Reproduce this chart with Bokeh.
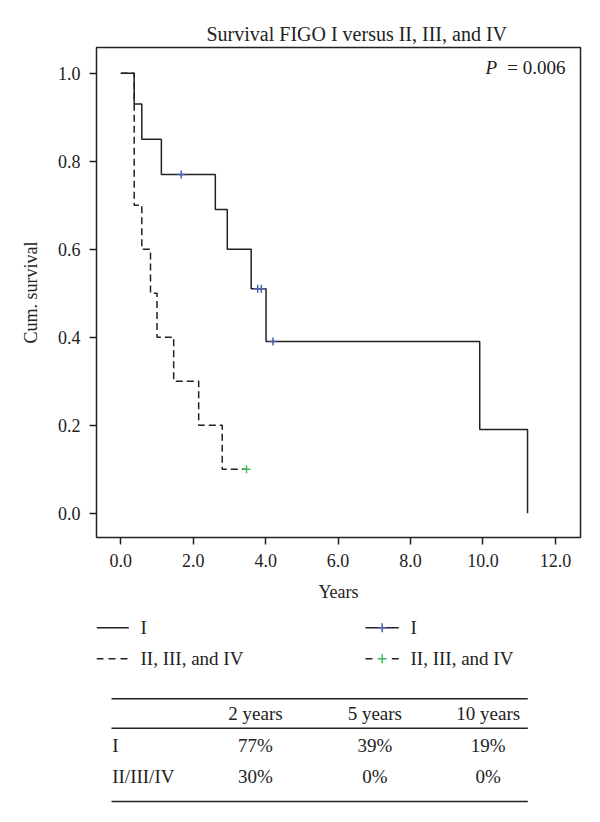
from bokeh.plotting import figure
from bokeh.models import Range1d, FixedTicker, NumeralTickFormatter, Label
from bokeh.layouts import column
from bokeh.embed import file_html
from bokeh.resources import INLINE
from bokeh.core.properties import value

# ---------------- data ----------------
title_text = "Survival FIGO I versus II, III, and IV"
x_label = "Years"
y_label = "Cum. survival"
x_ticks = [0, 2, 4, 6, 8, 10, 12]
y_ticks = [0.0, 0.2, 0.4, 0.6, 0.8, 1.0]

# FIGO I (Kaplan-Meier steps)
t_I = [0.0, 0.37, 0.58, 1.12, 2.61, 2.94, 3.60, 4.01, 9.91, 11.23]
s_I = [1.0, 0.93, 0.85, 0.77, 0.69, 0.60, 0.51, 0.39, 0.19, 0.0]
cens_t_I = [1.67, 3.78, 3.88, 4.20]
cens_s_I = [0.77, 0.51, 0.51, 0.39]

# FIGO II, III, and IV
t_II = [0.0, 0.37, 0.58, 0.82, 1.00, 1.46, 2.15, 2.80]
s_II = [1.0, 0.70, 0.60, 0.50, 0.40, 0.30, 0.20, 0.10]
cens_t_II = [3.47]
cens_s_II = [0.10]

p_value_text = "= 0.006"
legend_labels = ["I", "II, III, and IV"]
table_cols = ["2 years", "5 years", "10 years"]
table_rows = ["I", "II/III/IV"]
table_I = ["77%", "39%", "19%"]
table_II = ["30%", "0%", "0%"]

# ---------------- style ----------------
FONT = "Liberation Serif"
INK = "#222222"
BLUE = "#4a62b0"
GREEN = "#3dbb5e"

LEFT, RIGHT = 96, 12
TOP, FRAME_H, BOTTOM = 47, 490, 80
W = LEFT + 484 + RIGHT
H1 = TOP + FRAME_H + BOTTOM

p = figure(width=W, height=H1,
           x_range=Range1d(-0.671, 12.692), y_range=Range1d(-0.0552, 1.0584),
           output_backend="svg", toolbar_location=None,
           min_border_left=LEFT, min_border_right=RIGHT,
           min_border_top=TOP, min_border_bottom=BOTTOM)

p.title.text = title_text
p.title.text_font = FONT
p.title.text_font_size = "20px"
p.title.text_font_style = "normal"
p.title.text_color = INK
p.title.align = "left"
p.title.offset = 110
p.title.standoff = 6

p.xgrid.visible = False
p.ygrid.visible = False
p.outline_line_color = INK
p.outline_line_width = 1.5
p.background_fill_color = "white"
p.border_fill_color = "white"

p.xaxis.ticker = FixedTicker(ticks=x_ticks)
p.yaxis.ticker = FixedTicker(ticks=y_ticks)
p.xaxis.formatter = NumeralTickFormatter(format="0.0")
p.yaxis.formatter = NumeralTickFormatter(format="0.0")
p.xaxis.axis_label = x_label
p.yaxis.axis_label = y_label
for ax in (p.xaxis[0], p.yaxis[0]):
    ax.axis_line_color = None
    ax.major_tick_in = 0
    ax.major_tick_out = 7
    ax.major_tick_line_color = INK
    ax.major_tick_line_width = 1.5
    ax.minor_tick_line_color = None
    ax.major_label_text_font = FONT
    ax.major_label_text_font_size = "18px"
    ax.major_label_text_color = INK
    ax.axis_label_text_font = FONT
    ax.axis_label_text_font_size = "18px"
    ax.axis_label_text_font_style = "normal"
    ax.axis_label_text_color = INK
p.xaxis.major_label_standoff = 9
p.yaxis.major_label_standoff = 9
p.xaxis.axis_label_standoff = 12
p.yaxis.axis_label_standoff = 14

# curves
p.step(t_I, s_I, mode="after", line_color=INK, line_width=1.5)
p.step(t_II + cens_t_II, s_II + cens_s_II, mode="after", line_color=INK,
       line_width=1.5, line_dash="7 4")
p.scatter(cens_t_I, cens_s_I, marker="cross", size=8, line_color=BLUE, line_width=1.5)
p.scatter(cens_t_II, cens_s_II, marker="cross", size=8, line_color=GREEN, line_width=1.5)

p.add_layout(Label(x=10.07, y=1.0125, text="P", text_font=FONT, text_font_size="19px",
                   text_font_style="italic", text_baseline="middle", text_align="left",
                   text_color=INK))
p.add_layout(Label(x=10.67, y=1.0125, text=p_value_text, text_font=FONT, text_font_size="19px",
                   text_baseline="middle", text_align="left", text_color=INK))

# ---------------- legend + table panel (page pixel coordinates) ----------------
H2 = 200
q = figure(width=W, height=H2, x_range=Range1d(LEFT, LEFT + 484), y_range=Range1d(H1 + H2, H1),
           output_backend="svg", toolbar_location=None,
           min_border_left=LEFT, min_border_right=RIGHT, min_border_top=0, min_border_bottom=0,
           x_axis_type=None, y_axis_type=None)
q.grid.visible = False
q.outline_line_color = None

row_y = [627.3, 658.3]
# left legend column: plain lines
q.segment(x0=[96], y0=[row_y[0]], x1=[128.3], y1=[row_y[0]], line_color=INK, line_width=1.5)
q.segment(x0=[96], y0=[row_y[1]], x1=[128.3], y1=[row_y[1]], line_color=INK, line_width=1.5,
          line_dash="7 5")
q.text(x=[140, 140], y=row_y, text=legend_labels, text_font=value(FONT),
       text_font_size="19px", text_baseline="middle", text_align="left", text_color=INK)
# right legend column: lines with censor marks
q.segment(x0=[365], y0=[row_y[0]], x1=[398.3], y1=[row_y[0]], line_color=INK, line_width=1.5)
q.segment(x0=[365], y0=[row_y[1]], x1=[372], y1=[row_y[1]], line_color=INK, line_width=1.5)
q.segment(x0=[391.3], y0=[row_y[1]], x1=[398.3], y1=[row_y[1]], line_color=INK, line_width=1.5)
q.scatter([381.7], [row_y[0]], marker="cross", size=9, line_color=BLUE, line_width=1.5)
q.scatter([381.7], [row_y[1]], marker="cross", size=9, line_color=GREEN, line_width=1.5)
q.text(x=[410, 410], y=row_y, text=legend_labels, text_font=value(FONT),
       text_font_size="19px", text_baseline="middle", text_align="left", text_color=INK)

# table rules
rule_y = [698.3, 727.7, 801.0]
q.segment(x0=[111] * 3, y0=rule_y, x1=[527.3] * 3, y1=rule_y, line_color=INK, line_width=1.6)
col_x = [255, 374.3, 487.7]
hdr_y = 712.5
rows_y = [744.7, 775.8]
q.text(x=col_x, y=[hdr_y] * 3, text=table_cols, text_font=value(FONT), text_font_size="19px",
       text_baseline="middle", text_align="center", text_color=INK)
q.text(x=[111.7, 111.7], y=rows_y, text=table_rows, text_font=value(FONT), text_font_size="19px",
       text_baseline="middle", text_align="left", text_color=INK)
q.text(x=col_x, y=[rows_y[0]] * 3, text=table_I, text_font=value(FONT), text_font_size="19px",
       text_baseline="middle", text_align="center", text_color=INK)
q.text(x=col_x, y=[rows_y[1]] * 3, text=table_II, text_font=value(FONT), text_font_size="19px",
       text_baseline="middle", text_align="center", text_color=INK)

layout = column(p, q)
open("out.html", "w").write(file_html(layout, INLINE))
